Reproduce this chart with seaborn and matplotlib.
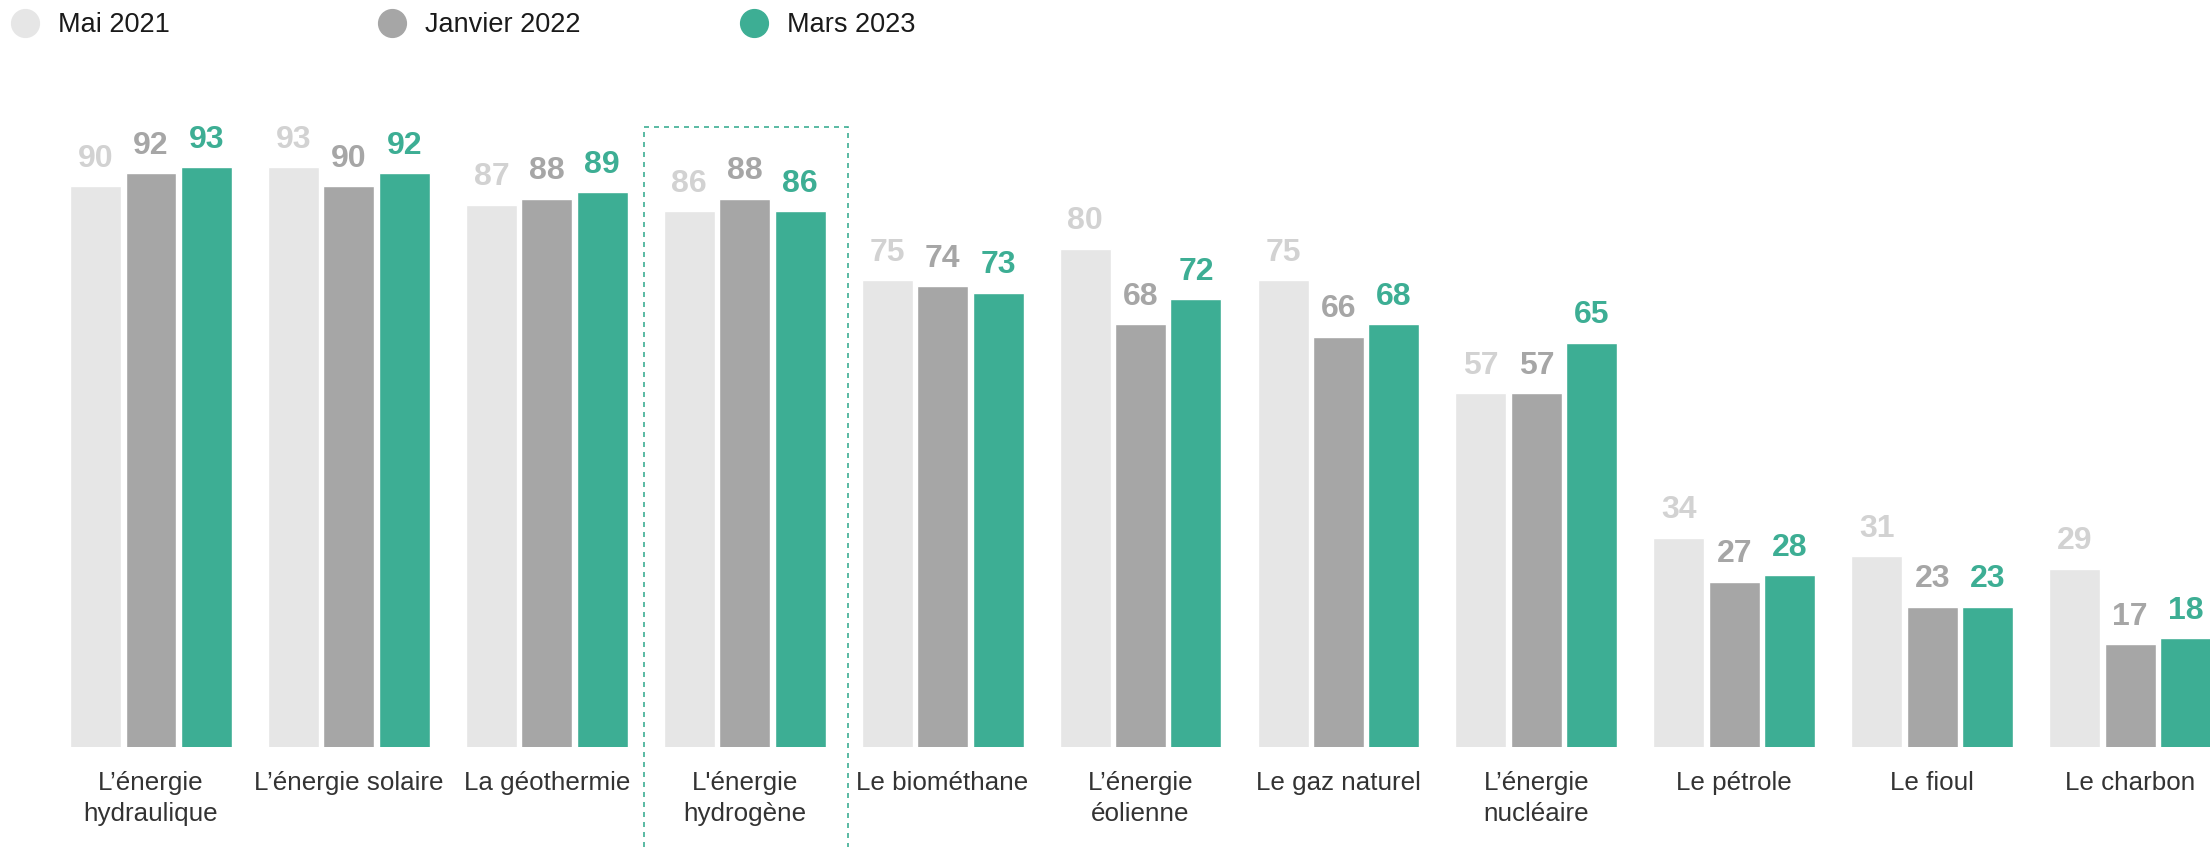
import pandas as pd
import seaborn as sns
import matplotlib.pyplot as plt
from matplotlib.lines import Line2D
from matplotlib.patches import Rectangle
import matplotlib.transforms as mtransforms

categories = ["L’énergie\nhydraulique", "L’énergie solaire", "La géothermie",
              "L'énergie\nhydrogène", "Le biométhane", "L’énergie\néolienne",
              "Le gaz naturel", "L’énergie\nnucléaire", "Le pétrole",
              "Le fioul", "Le charbon"]
periods = ["Mai 2021", "Janvier 2022", "Mars 2023"]
mai_2021 = [90, 93, 87, 86, 75, 80, 75, 57, 34, 31, 29]
janvier_2022 = [92, 90, 88, 88, 74, 68, 66, 57, 27, 23, 17]
mars_2023 = [93, 92, 89, 86, 73, 72, 68, 65, 28, 23, 18]

bar_colors = ["#e6e6e6", "#a6a6a6", "#3dae94"]
label_colors = ["#d2d2d2", "#a6a6a6", "#3dae94"]
highlight = "L'énergie\nhydrogène"

df = pd.DataFrame({
    "cat": categories * 3,
    "period": [p for p in periods for _ in categories],
    "val": mai_2021 + janvier_2022 + mars_2023,
})

sns.set_style("white")
plt.rcParams["font.family"] = ["Liberation Sans", "DejaVu Sans"]

W, H = 2210, 847
fig = plt.figure(figsize=(W / 100, H / 100), dpi=100)
ax = fig.add_axes([0, 100 / H, 1, 647 / H])

sns.barplot(data=df, x="cat", y="val", hue="period", order=categories,
            hue_order=periods, palette=bar_colors, width=0.84, gap=0.08,
            saturation=1, legend=False, ax=ax)

for cont, col in zip(ax.containers, label_colors):
    ax.bar_label(cont, padding=9, color=col, fontsize=23, fontweight="bold")

ax.set_xlim(-0.763, 10.404)
ax.set_ylim(0.64, 103.7)
ax.set_xlabel("")
ax.set_ylabel("")
ax.set_yticks([])
sns.despine(ax=ax, left=True, bottom=True)
ax.tick_params(axis="x", length=0, pad=17, labelsize=18.7, labelcolor="#333333")
for t in ax.get_xticklabels():
    t.set_linespacing(1.4)

# dashed box around the highlighted category
i = categories.index(highlight)
trans = mtransforms.blended_transform_factory(ax.transData, ax.transAxes)
ax.add_patch(Rectangle((i - 0.51, -0.3), 1.03, 0.3 + 0.958, transform=trans,
                       fill=False, edgecolor="#3dae94", linestyle=(0, (3, 3)),
                       linewidth=1.2, clip_on=False))

# legend: three fixed-width entries
for p, col, x0 in zip(periods, bar_colors, [11, 378, 740]):
    h = Line2D([], [], marker="o", linestyle="none", markersize=20,
               markerfacecolor=col, markeredgecolor=col)
    fig.legend([h], [p], loc="upper left", bbox_to_anchor=(x0 / W, 1 - 12 / H),
               frameon=False, fontsize=19.5, handlelength=1.0, handletextpad=0.72,
               borderpad=0, borderaxespad=0, labelcolor="#1a1a1a")

fig.savefig("out.png", dpi=100)
